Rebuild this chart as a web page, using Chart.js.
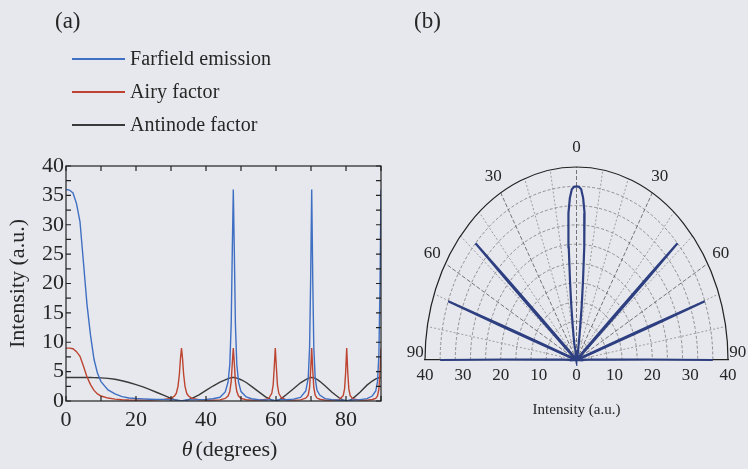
<!DOCTYPE html>
<html>
<head>
<meta charset="utf-8">
<script src="https://cdn.jsdelivr.net/npm/chart.js@4.4.0/dist/chart.umd.min.js"></script>
<style>
    body { margin: 0; background: #e7e8ed; }
    #wrap { position: relative; width: 748px; height: 469px; overflow: hidden; background: #e7e8ed;
            font-family: "Liberation Serif", serif; color: #262626; }
    canvas { position: absolute; top: 0; }
    #chartA { left: 0; }
    #chartB { left: 390px; }
    .panel { position: absolute; font-size: 23px; line-height: 24px; }
    #legend { position: absolute; left: 72px; top: 42px; }
    .row { display: flex; align-items: center; height: 33px; font-size: 20px; letter-spacing: 0.1px; white-space: nowrap; }
    .row .line { display: inline-block; width: 53px; height: 2px; margin-right: 5px; }
</style>
</head>
<body>
<div id="wrap">
    <canvas id="chartA" width="390" height="469"></canvas>
    <canvas id="chartB" width="358" height="469"></canvas>
    <div class="panel" style="left:55px; top:9px;">(a)</div>
    <div class="panel" style="left:414px; top:9px;">(b)</div>
    <div id="legend"></div>
</div>
<script>
// angle (degrees) and the three curves
let thetaDeg = [0, 1, 2, 3, 4, 5, 6, 7, 8, 9, 10,
    12, 14, 16, 18, 20, 22, 24, 26, 28, 30,
    31, 31.5, 32, 32.4, 32.7,
    33, 33.3, 33.6, 34, 34.5, 35, 36,
    38, 40, 42, 44,
    45.5, 46.3, 46.8, 47.2, 47.5,
    47.8, 48.1, 48.4, 48.8, 49.3, 50,
    51.5, 53, 55, 57,
    58, 58.8, 59.2, 59.5,
    59.8, 60.1, 60.4, 60.8, 61.5,
    63, 65, 67,
    68.5, 69.2, 69.6, 69.9,
    70.2, 70.5, 70.8, 71.2, 71.7, 72.5,
    74, 76, 78,
    79.2, 79.6, 79.9,
    80.2, 80.5, 80.8, 81.2, 82,
    84, 86, 87.5, 88.5,
    89, 89.4, 89.7, 90];

let farfield = [36, 35.9, 35.4, 33.6, 30.5, 23.5, 16.4, 11.2, 7.1, 4.7, 3.3,
    1.9, 1.2, 0.75, 0.52, 0.42, 0.36, 0.31, 0.28, 0.25, 0.2,
    0.19, 0.16, 0.12, 0.09, 0.04,
    0, 0.04, 0.09, 0.12, 0.16, 0.19, 0.2,
    0.23, 0.27, 0.38, 0.64,
    1.55, 3.2, 6.2, 13.1, 25.1,
    36, 25.1, 13.1, 6.2, 3.2, 1.6,
    0.7, 0.38, 0.24, 0.18,
    0.2, 0.2, 0.17, 0.12,
    0, 0.12, 0.17, 0.2, 0.22,
    0.22, 0.32, 0.62,
    1.7, 3.85, 9.1, 20.7,
    36, 20.7, 9.1, 3.85, 1.85, 1.0,
    0.4, 0.23, 0.12,
    0.14, 0.15, 0.1,
    0, 0.1, 0.15, 0.14, 0.16,
    0.23, 0.4, 0.85, 1.7,
    3.3, 7.9, 19.1, 36];

let airy = [9, 9, 8.9, 8.4, 7.6, 5.9, 4.1, 2.8, 1.8, 1.2, 0.85,
    0.5, 0.32, 0.22, 0.17, 0.15, 0.15, 0.16, 0.2, 0.28, 0.45,
    0.85, 1.3, 2.5, 4.6, 7.2,
    9, 7.2, 4.6, 2.5, 1.3, 0.85, 0.45,
    0.22, 0.15, 0.15, 0.2,
    0.43, 0.85, 1.6, 3.3, 6.3,
    9, 6.3, 3.3, 1.6, 0.85, 0.45,
    0.22, 0.15, 0.15, 0.25,
    0.5, 1.3, 2.8, 5.8,
    9, 5.8, 2.8, 1.3, 0.55,
    0.2, 0.15, 0.2,
    0.47, 1.0, 2.3, 5.2,
    9, 5.2, 2.3, 1.0, 0.5, 0.3,
    0.15, 0.15, 0.22,
    0.9, 2.1, 4.9,
    9, 4.9, 2.1, 0.9, 0.35,
    0.15, 0.15, 0.25, 0.45,
    0.85, 2.0, 4.8, 9];

let antinode = [4, 4, 4, 4, 4, 4, 4, 4, 3.98, 3.96, 3.93,
    3.85, 3.7, 3.45, 3.15, 2.8, 2.4, 1.95, 1.45, 0.95, 0.45,
    0.22, 0.12, 0.05, 0.02, 0.005,
    0, 0.005, 0.02, 0.05, 0.12, 0.22, 0.45,
    1.05, 1.8, 2.55, 3.2,
    3.6, 3.8, 3.9, 3.96, 3.99,
    4, 3.99, 3.96, 3.9, 3.8, 3.62,
    3.15, 2.5, 1.6, 0.7,
    0.4, 0.15, 0.06, 0.02,
    0, 0.02, 0.06, 0.15, 0.4,
    1.1, 2.1, 3.1,
    3.65, 3.85, 3.94, 3.98,
    4, 3.98, 3.94, 3.85, 3.7, 3.35,
    2.6, 1.5, 0.55,
    0.15, 0.07, 0.02,
    0, 0.02, 0.07, 0.15, 0.45,
    1.5, 2.7, 3.4, 3.75,
    3.87, 3.95, 3.98, 4];

let seriesNames = ['Farfield emission', 'Airy factor', 'Antinode factor'];
let seriesColors = ['#3f6fc3', '#bd4431', '#3a3a3a'];

let intensityTicks = [0, 5, 10, 15, 20, 25, 30, 35, 40];
let thetaTicks = [0, 20, 40, 60, 80];
let polarTicks = [-40, -30, -20, -10, 0, 10, 20, 30, 40];
let polarRings = [4, 8, 12, 16, 20, 24, 28, 32, 36];
let polarSpokes = [10, 20, 30, 40, 50, 60, 70, 80];
let angleLabels = [0, 30, 60, 90];

const serif = 'Liberation Serif';
const ink = '#262626';

// legend
let legend = document.getElementById('legend');
seriesNames.forEach(function (name, i) {
    let row = document.createElement('div');
    row.className = 'row';
    let line = document.createElement('span');
    line.className = 'line';
    line.style.background = seriesColors[i];
    row.appendChild(line);
    row.appendChild(document.createTextNode(name));
    legend.appendChild(row);
});

// ---------- panel (a)
let seriesValues = [farfield, airy, antinode];
let datasetsA = seriesValues.map(function (vals, i) {
    return {
        label: seriesNames[i],
        data: thetaDeg.map(function (t, k) { return { x: t, y: vals[k] }; }),
        borderColor: seriesColors[i],
        borderWidth: 1.4,
        pointRadius: 0,
        tension: 0,
        showLine: true
    };
});

const frameA = {
    id: 'frameA',
    afterDatasetsDraw(chart) {
        let { ctx, chartArea: a, scales: { x, y } } = chart;
        ctx.save();
        ctx.strokeStyle = '#222';
        ctx.lineWidth = 1.2;
        ctx.strokeRect(a.left, a.top, a.right - a.left, a.bottom - a.top);
        ctx.beginPath();
        for (let v = 0; v <= 40; v += 2.5) {
            let py = y.getPixelForValue(v);
            ctx.moveTo(a.left, py); ctx.lineTo(a.left + 5, py);
            ctx.moveTo(a.right, py); ctx.lineTo(a.right - 5, py);
        }
        for (let t = 0; t <= 90; t += 10) {
            let px = x.getPixelForValue(t);
            ctx.moveTo(px, a.top); ctx.lineTo(px, a.top + 5);
            ctx.moveTo(px, a.bottom); ctx.lineTo(px, a.bottom - 5);
        }
        ctx.stroke();
        // x title with italic theta
        ctx.fillStyle = ink;
        ctx.textBaseline = 'middle';
        let f1 = 'italic 22px "' + serif + '"', f2 = '22px "' + serif + '"';
        ctx.font = f1;
        let w1 = ctx.measureText('θ').width;
        ctx.font = f2;
        let w2 = ctx.measureText('(degrees)').width;
        let cx = (a.left + a.right) / 2 + 6;
        let x0 = cx - (w1 + 3 + w2) / 2;
        ctx.font = f1;
        ctx.fillText('θ', x0, 450);
        ctx.font = f2;
        ctx.fillText('(degrees)', x0 + w1 + 3, 450);
        ctx.restore();
    }
};

new Chart(document.getElementById('chartA'), {
    type: 'scatter',
    data: { datasets: datasetsA },
    options: {
        responsive: false,
        animation: false,
        layout: { padding: { left: 0, right: 9, top: 166, bottom: 0 } },
        plugins: { legend: { display: false }, tooltip: { enabled: false } },
        scales: {
            x: {
                type: 'linear', min: 0, max: 90,
                afterBuildTicks: function (s) { s.ticks = thetaTicks.map(function (v) { return { value: v }; }); },
                afterFit: function (s) { s.height = 68; },
                grid: { display: false, drawTicks: false },
                border: { display: false },
                ticks: { color: ink, padding: 6, maxRotation: 0, autoSkip: false, font: { family: serif, size: 22 } }
            },
            y: {
                type: 'linear', min: 0, max: 40,
                afterBuildTicks: function (s) { s.ticks = intensityTicks.map(function (v) { return { value: v }; }); },
                afterFit: function (s) { s.width = 66; },
                grid: { display: false, drawTicks: false },
                border: { display: false },
                ticks: { color: ink, padding: 2, autoSkip: false, font: { family: serif, size: 22 } },
                title: { display: true, text: 'Intensity (a.u.)', color: ink, padding: { top: 5, bottom: 0 },
                         font: { family: serif, size: 22 } }
            }
        }
    },
    plugins: [frameA]
});

// ---------- panel (b): farfield emission in polar form, mirrored about 0
function toXY(deg, r) {
    let a = deg * Math.PI / 180;
    return { x: r * Math.sin(a), y: r * Math.cos(a) };
}
let polarPts = [];
for (let i = thetaDeg.length - 1; i > 0; i--) polarPts.push(toXY(-thetaDeg[i], farfield[i]));
for (let i = 0; i < thetaDeg.length; i++) polarPts.push(toXY(thetaDeg[i], farfield[i]));

const polarGrid = {
    id: 'polarGrid',
    beforeDatasetsDraw(chart) {
        let { ctx, scales: { x, y } } = chart;
        let cx = x.getPixelForValue(0), cy = y.getPixelForValue(0);
        ctx.save();
        ctx.lineWidth = 0.8;
        ctx.strokeStyle = '#7a7a7a';
        ctx.setLineDash([3, 2]);
        for (let r of polarRings) {
            ctx.beginPath();
            ctx.ellipse(cx, cy, x.getPixelForValue(r) - cx, cy - y.getPixelForValue(r), 0, Math.PI, 2 * Math.PI);
            ctx.stroke();
        }
        let spokes = [0].concat(polarSpokes, polarSpokes.map(function (d) { return -d; }));
        for (let d of spokes) {
            let p = toXY(d, 40);
            ctx.strokeStyle = (d % 30 === 0) ? '#555' : '#8a8a8a';
            ctx.setLineDash(d % 30 === 0 ? [4, 2] : [2, 2]);
            ctx.beginPath();
            ctx.moveTo(cx, cy);
            ctx.lineTo(x.getPixelForValue(p.x), y.getPixelForValue(p.y));
            ctx.stroke();
        }
        ctx.setLineDash([]);
        ctx.strokeStyle = '#222';
        ctx.lineWidth = 1.2;
        ctx.beginPath();
        ctx.ellipse(cx, cy, x.getPixelForValue(40) - cx, cy - y.getPixelForValue(40), 0, Math.PI, 2 * Math.PI);
        ctx.stroke();
        ctx.restore();
    },
    afterDraw(chart) {
        let { ctx, scales: { x, y } } = chart;
        ctx.save();
        ctx.fillStyle = ink;
        ctx.font = '17px "' + serif + '"';
        ctx.textAlign = 'center';
        ctx.textBaseline = 'middle';
        for (let d of angleLabels) {
            let sides = d === 0 ? [1] : [-1, 1];
            for (let s of sides) {
                let p = toXY(s * d, d === 90 ? 42.6 : 44);
                let py = y.getPixelForValue(p.y) - (d === 90 ? 7 : 0);
                ctx.fillText(String(d), x.getPixelForValue(p.x), py);
            }
        }
        ctx.restore();
    }
};

new Chart(document.getElementById('chartB'), {
    type: 'scatter',
    data: {
        datasets: [{
            label: seriesNames[0],
            data: polarPts,
            borderColor: '#2d3f80',
            borderWidth: 2.2,
            pointRadius: 0,
            tension: 0,
            showLine: true,
            clip: 6
        }]
    },
    options: {
        responsive: false,
        animation: false,
        layout: { padding: { left: 35, right: 20, top: 167, bottom: 0 } },
        plugins: { legend: { display: false }, tooltip: { enabled: false } },
        scales: {
            x: {
                type: 'linear', min: -40, max: 40,
                afterBuildTicks: function (s) { s.ticks = polarTicks.map(function (v) { return { value: v }; }); },
                afterFit: function (s) { s.height = 109; },
                grid: { display: false, drawTicks: false },
                border: { display: true, color: '#222', width: 1.2 },
                ticks: {
                    color: ink, padding: 5, maxRotation: 0, autoSkip: false, font: { family: serif, size: 17 },
                    callback: function (v) { return String(Math.abs(v)); }
                },
                title: { display: true, text: 'Intensity (a.u.)', color: ink, padding: { top: 0, bottom: 50 },
                         font: { family: serif, size: 15 } }
            },
            y: { type: 'linear', min: 0, max: 40, display: false }
        }
    },
    plugins: [polarGrid]
});
</script>
</body>
</html>
